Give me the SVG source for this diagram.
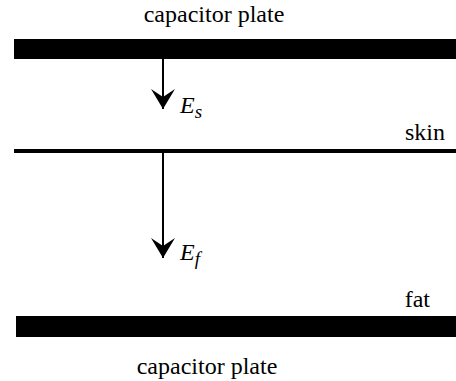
<svg xmlns="http://www.w3.org/2000/svg" width="456" height="381" viewBox="0 0 456 381">
<style>
.lbl{font-size:24px}
.sym{font-size:24px;font-style:italic}
.sub{font-size:19px}
.shaft{stroke:#000;stroke-width:2;fill:none}
</style>
<defs>
<marker id="ah" markerUnits="userSpaceOnUse" viewBox="-21 -13 22 26" refX="0" refY="0" markerWidth="22" markerHeight="26" orient="auto">
<path d="M0,0 L-20,-12 L-12,0 L-20,12 Z" fill="#000"/>
</marker>
</defs>
<rect width="456" height="381" fill="#fff"/>
<g font-family="'Liberation Serif', 'Times New Roman', serif" fill="#000">
<g id="top-plate">
<rect x="14" y="39" width="442" height="20"/>
<text class="lbl" font-size="24" x="214" y="22" text-anchor="middle">capacitor plate</text>
</g>
<g id="skin">
<rect x="14" y="149" width="442" height="4"/>
<text class="lbl" font-size="24" x="445" y="140" text-anchor="end">skin</text>
</g>
<g id="fat">
<rect x="16" y="316" width="440" height="21"/>
<text class="lbl" font-size="24" x="430" y="307" text-anchor="end">fat</text>
<text class="lbl" font-size="24" x="207" y="374" text-anchor="middle">capacitor plate</text>
</g>
<g id="connectors">
<line class="shaft" stroke="#000" stroke-width="2" x1="163" y1="59" x2="163" y2="109" marker-end="url(#ah)"/>
<line class="shaft" stroke="#000" stroke-width="2" x1="163" y1="153" x2="163" y2="258" marker-end="url(#ah)"/>
</g>
<g id="Es">
<text class="sym" font-size="24" font-style="italic" x="180" y="113">E<tspan class="sub" font-size="19" dy="5">s</tspan></text>
</g>
<g id="Ef">
<text class="sym" font-size="24" font-style="italic" x="180" y="260">E<tspan class="sub" font-size="19" dy="5">f</tspan></text>
</g>
</g>
</svg>
